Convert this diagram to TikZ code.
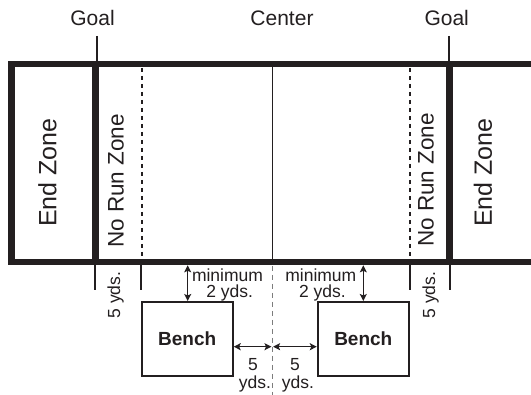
\documentclass[tikz,border=0pt]{standalone}
\usepackage{fontspec}
\setmainfont{Liberation Sans}
\usetikzlibrary{arrows.meta}
\definecolor{ink}{RGB}{35,31,32}
\definecolor{midgray}{RGB}{125,125,125}
\begin{document}
\begin{tikzpicture}[x=1pt,y=-1pt,
  heavy/.style={draw=ink,line width=6.6pt},
  thin/.style={draw=ink,line width=1.6pt},
  tickline/.style={draw=ink,line width=2pt},
  dashline/.style={draw=ink,line width=2pt,dash pattern=on 4.5pt off 3.5pt},
  grayline/.style={draw=midgray,line width=1.3pt,dash pattern=on 5pt off 4pt},
  lbl/.style={text=ink,font=\fontsize{21}{24}\selectfont,inner sep=0pt,anchor=base},
  endzone/.style={text=ink,font=\fontsize{25}{28}\selectfont,inner sep=0pt,rotate=90},
  norun/.style={text=ink,font=\fontsize{22.5}{26}\selectfont,inner sep=0pt,rotate=90},
  small/.style={text=ink,font=\fontsize{17.5}{17}\selectfont,inner sep=0pt},
  benchbox/.style={draw=ink,line width=2pt,minimum width=91pt,minimum height=74pt,
    font=\fontsize{19}{22}\selectfont\bfseries,text=ink,inner sep=0pt},
  dbl/.style={draw=ink,line width=1.5pt,
    {Stealth[length=7pt,width=7pt,inset=1.5pt]}-{Stealth[length=7pt,width=7pt,inset=1.5pt]}}
  ]
\useasboundingbox (0,0) rectangle (531,395);
\fill[white] (0,0) rectangle (531,395);

% field outline
\coordinate (tr) at (540,64);
\coordinate (tl) at (11.5,64);
\coordinate (bl) at (11.5,262);
\coordinate (br) at (540,262);
\draw[heavy,line join=miter] (tr) -- (tl) -- (bl) -- (br);

% goal lines
\coordinate (gLt) at (95.7,64);
\coordinate (gLb) at (95.7,262);
\coordinate (gRt) at (449.3,64);
\coordinate (gRb) at (449.3,262);
\draw[heavy] (gLt) -- (gLb);
\draw[heavy] (gRt) -- (gRb);

% goal ticks above
\coordinate (tkLa) at (97,36);
\coordinate (tkLb) at (97,61);
\coordinate (tkRa) at (449,36);
\coordinate (tkRb) at (449,61);
\draw[thin] (tkLa) -- (tkLb);
\draw[thin] (tkRa) -- (tkRb);

% dashed no-run lines
\coordinate (dLt) at (141.7,68);
\coordinate (dLb) at (141.7,258);
\coordinate (dRt) at (410,68);
\coordinate (dRb) at (410,258);
\draw[dashline] (dLt) -- (dLb);
\draw[dashline] (dRt) -- (dRb);

% center line
\coordinate (cT) at (272.3,67);
\coordinate (cB) at (272.3,259);
\coordinate (cB2) at (272.3,266);
\coordinate (cEnd) at (272.3,395);
\draw[thin] (cT) -- (cB);
\draw[grayline] (cB2) -- (cEnd);

% ticks below
\coordinate (b1a) at (95,265);   \coordinate (b1b) at (95,290);
\coordinate (b2a) at (140.5,265); \coordinate (b2b) at (140.5,290);
\coordinate (b3a) at (410,265);  \coordinate (b3b) at (410,290);
\coordinate (b4a) at (450,265);  \coordinate (b4b) at (450,290);
\draw[tickline] (b1a) -- (b1b);
\draw[tickline] (b2a) -- (b2b);
\draw[tickline] (b3a) -- (b3b);
\draw[tickline] (b4a) -- (b4b);

% top labels
\node[lbl] (goalL) at (92.5,26) {Goal};
\node[lbl] (center) at (282,26) {Center};
\node[lbl] (goalR) at (446.7,26) {Goal};

% zone labels
\node[endzone] (ezL) at (47.5,172.5) {End Zone};
\node[endzone] (ezR) at (483,172.5) {End Zone};
\node[norun] (nrL) at (116,181) {No Run Zone};
\node[norun] (nrR) at (426,180) {No Run Zone};

% 5 yds rotated
\node[small,rotate=90] (fyL) at (115.5,295) {5 yds.};
\node[small,rotate=90] (fyR) at (430.5,295) {5 yds.};

% benches
\node[benchbox] (benchL) at (187.2,339) {Bench};
\node[benchbox] (benchR) at (363.3,339) {Bench};

% vertical arrows
\coordinate (fbL) at (187.7,265.3);
\coordinate (fbR) at (363.3,265.3);
\draw[dbl] (fbL) -- (fbL |- benchL.north);
\draw[dbl] (fbR) -- (fbR |- benchR.north);

% minimum labels
\node[small,anchor=base] (minL) at (227.5,281.5) {minimum};
\node[small,anchor=base] (twoL) at (229.7,298) {2 yds.};
\node[small,anchor=base] (minR) at (320.8,281.5) {minimum};
\node[small,anchor=base] (twoR) at (322.5,298) {2 yds.};

% horizontal arrows
\coordinate (hL) at (271.5,346.7);
\coordinate (hR) at (273.1,346.7);
\draw[dbl] (hL -| benchL.east) -- (hL);
\draw[dbl] (hR) -- (hR -| benchR.west);

% 5 yds labels
\node[small,anchor=base] (fiveL) at (253,370.5) {5};
\node[small,anchor=base] (ydsL) at (255,389) {yds.};
\node[small,anchor=base] (fiveR) at (295,370.5) {5};
\node[small,anchor=base] (ydsR) at (298,389) {yds.};
\end{tikzpicture}
\end{document}
